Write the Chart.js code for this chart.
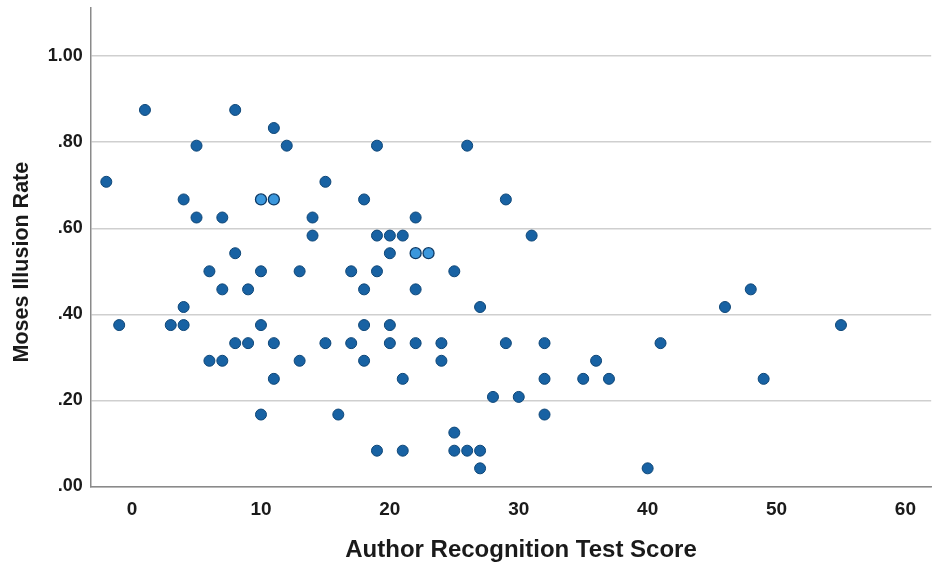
<!DOCTYPE html>
<html>
<head>
<meta charset="utf-8">
<script src="https://cdn.jsdelivr.net/npm/chart.js@4/dist/chart.umd.min.js"></script>
<style>
  body { margin: 0; background: #fff; }
  #wrap { width: 938px; height: 565px; }
</style>
</head>
<body>
<div id="wrap"><canvas id="scatter"></canvas></div>
<script>
// Author Recognition Test score vs Moses illusion rate
const scoreDark = [-2, -1, 1, 3, 4, 4, 4, 5, 5, 6, 6, 7, 7, 7, 8, 8, 8, 9, 9, 10, 10, 10, 11, 11, 11, 12,
    13, 13, 14, 14, 15, 15, 16, 17, 17, 18, 18, 18, 18, 19, 19, 19, 19, 20, 20, 20, 20, 21, 21, 21,
    22, 22, 22, 24, 24, 25, 25, 25, 26, 26, 27, 27, 27, 28, 29, 29, 30, 31, 32, 32, 32,
    35, 36, 37, 40, 41, 46, 48, 49, 55];
const rateDark = [.708, .375, .875, .375, .667, .417, .375, .792, .625, .5, .292, .625, .458, .292, .875, .542, .333, .458, .333, .5, .375, .167, .833, .333, .25, .792,
    .5, .292, .625, .583, .708, .333, .167, .5, .333, .667, .458, .375, .292, .792, .583, .5, .083, .583, .542, .375, .333, .583, .25, .083,
    .625, .458, .333, .333, .292, .5, .125, .083, .792, .083, .417, .083, .042, .208, .667, .333, .208, .583, .333, .25, .167,
    .25, .292, .25, .042, .333, .417, .458, .25, .375];

// the few highlighted (lighter) points
const scoreLight = [10, 11, 22, 23];
const rateLight = [.667, .667, .542, .542];

const xTicks = [0, 10, 20, 30, 40, 50, 60];
const yTicks = [0, .2, .4, .6, .8, 1.0];

const toPoints = (xs, ys) => xs.map((x, i) => ({ x: x, y: ys[i] }));

const fontFamily = '"Liberation Sans", Arial, sans-serif';

new Chart(document.getElementById('scatter'), {
    type: 'scatter',
    data: {
        datasets: [{
            data: toPoints(scoreDark, rateDark),
            backgroundColor: '#1862a3',
            borderColor: '#0e4677',
            borderWidth: 1,
            pointRadius: 5.5,
            pointHoverRadius: 5.5
        }, {
            data: toPoints(scoreLight, rateLight),
            backgroundColor: '#3b97dc',
            borderColor: '#0d3a66',
            borderWidth: 1.3,
            pointRadius: 5.5,
            pointHoverRadius: 5.5
        }]
    },
    options: {
        responsive: true,
        maintainAspectRatio: false,
        animation: false,
        layout: { padding: { left: 0, right: 6, top: 8, bottom: 0 } },
        plugins: {
            legend: { display: false },
            tooltip: { enabled: false }
        },
        scales: {
            x: {
                type: 'linear',
                min: -3.2,
                max: 62,
                afterBuildTicks: axis => { axis.ticks = xTicks.map(v => ({ value: v })); },
                grid: { display: false, drawTicks: false },
                border: { color: '#8a8a8a', width: 1.5 },
                ticks: {
                    color: '#1a1a1a',
                    padding: 12,
                    font: { family: fontFamily, size: 19, weight: 'bold' }
                },
                title: {
                    display: true,
                    // leading spaces nudge the title a little right, as in the original
                    text: '   Author Recognition Test Score',
                    color: '#1a1a1a',
                    padding: { top: 3, bottom: 0 },
                    font: { family: fontFamily, size: 24, weight: 'bold' }
                }
            },
            y: {
                min: 0,
                max: 1.112,
                afterBuildTicks: axis => { axis.ticks = yTicks.map(v => ({ value: v })); },
                // the top tick is not at the edge, so no need for label room above it
                afterFit: axis => { axis.paddingTop = 0; axis.paddingBottom = 0; },
                grid: { color: '#cfcfcf', lineWidth: 1.5, drawTicks: false },
                border: { color: '#8a8a8a', width: 1.5 },
                ticks: {
                    color: '#1a1a1a',
                    padding: 8,
                    font: { family: fontFamily, size: 18, weight: 'bold' },
                    callback: v => v.toFixed(2).replace(/^0/, '')
                },
                title: {
                    display: true,
                    text: 'Moses Illusion Rate     ',
                    color: '#1a1a1a',
                    padding: { top: 9, bottom: 5 },
                    font: { family: fontFamily, size: 21.5, weight: 'bold' }
                }
            }
        }
    }
});
</script>
</body>
</html>
